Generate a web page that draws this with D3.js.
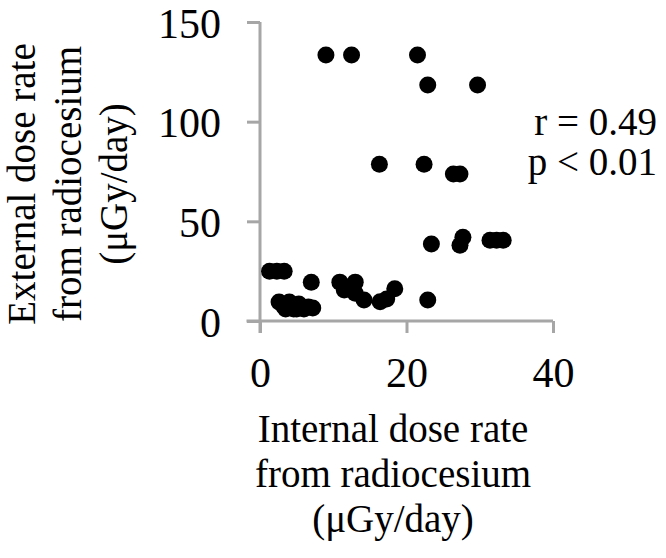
<!DOCTYPE html>
<html><head><meta charset="utf-8">
<script src="https://cdn.jsdelivr.net/npm/d3@7"></script>
<style>
html,body{margin:0;padding:0;background:#fff;}
text{font-family:"Liberation Serif","Times New Roman",serif;fill:#000;}
</style></head>
<body><svg id="c" width="666" height="558"></svg>
<script>
const internalDose = [9.0,12.5,21.5,22.9,29.7,16.3,22.4,26.4,27.3,23.4,27.3,27.7,31.4,32.3,33.2,22.9,
  1.3,2.3,3.3,7.0,2.6,3.5,4.0,4.6,5.3,6.0,7.2,3.2,4.3,5.0,6.6,10.9,13.0,11.5,13.0,14.2,16.4,17.3,18.4];
const externalDose = [133.5,133.5,133.5,118.4,118.4,78.6,78.6,73.8,73.8,38.6,38.0,42.0,40.5,40.5,40.5,10.5,
  25,25,25,19.4,9.5,6,9.5,6,8.5,6,6.5,7.5,7.5,6,7,19.5,19.5,15.6,13.9,10.5,9.7,11.0,16.2];
const xTicks = [0,20,40];
const yTicks = [0,50,100,150];
const xTitle = ["Internal dose rate","from radiocesium","(\u03bcGy/day)"];
const yTitle = ["External dose rate","from radiocesium","(\u03bcGy/day)"];
const stats = ["r = 0.49","p < 0.01"];

const svg = d3.select("#c");
const x = d3.scaleLinear().domain([0,40]).range([260,553]);
const y = d3.scaleLinear().domain([0,150]).range([321,22]);
const axisColor = "#a6a6a6";

const gx = svg.append("g").attr("transform","translate(0,321)")
  .call(d3.axisBottom(x).tickValues(xTicks).tickSize(12).tickSizeOuter(0).tickPadding(24));
const gy = svg.append("g").attr("transform","translate(260,0)")
  .call(d3.axisLeft(y).tickValues(yTicks).tickSize(13).tickSizeOuter(0).tickPadding(26));
[gx,gy].forEach(g=>{
  g.select(".domain").attr("stroke",axisColor).attr("stroke-width",3);
  g.selectAll(".tick line").attr("stroke",axisColor).attr("stroke-width",3);
  g.selectAll(".tick text").style("font-family","'Liberation Serif','Times New Roman',serif")
   .style("font-size","42px").attr("fill","#000");
});
gx.select(".domain").attr("d",`M${260-13.5},0H553`);
gy.select(".domain").attr("d",`M0,22V${321+12}`);
gy.selectAll(".tick text").attr("dy","0.36em");

svg.append("g").selectAll("circle").data(internalDose).join("circle")
  .attr("cx",d=>x(d)).attr("cy",(d,i)=>y(externalDose[i])).attr("r",8.5).attr("fill","#000");

svg.append("g").selectAll("text").data(xTitle).join("text")
  .attr("x",393).attr("y",(d,i)=>442+i*45).attr("text-anchor","middle")
  .style("font-size","39px").text(d=>d);

svg.append("g").selectAll("text").data(yTitle).join("text")
  .attr("transform",(d,i)=>`translate(${35+i*46},184) rotate(-90)`)
  .attr("text-anchor","middle").style("font-size","39px").text(d=>d);

svg.append("g").selectAll("text").data(stats).join("text")
  .attr("x",657).attr("y",(d,i)=>135+i*40).attr("text-anchor","end")
  .style("font-size","39px").text(d=>d);
</script></body></html>
